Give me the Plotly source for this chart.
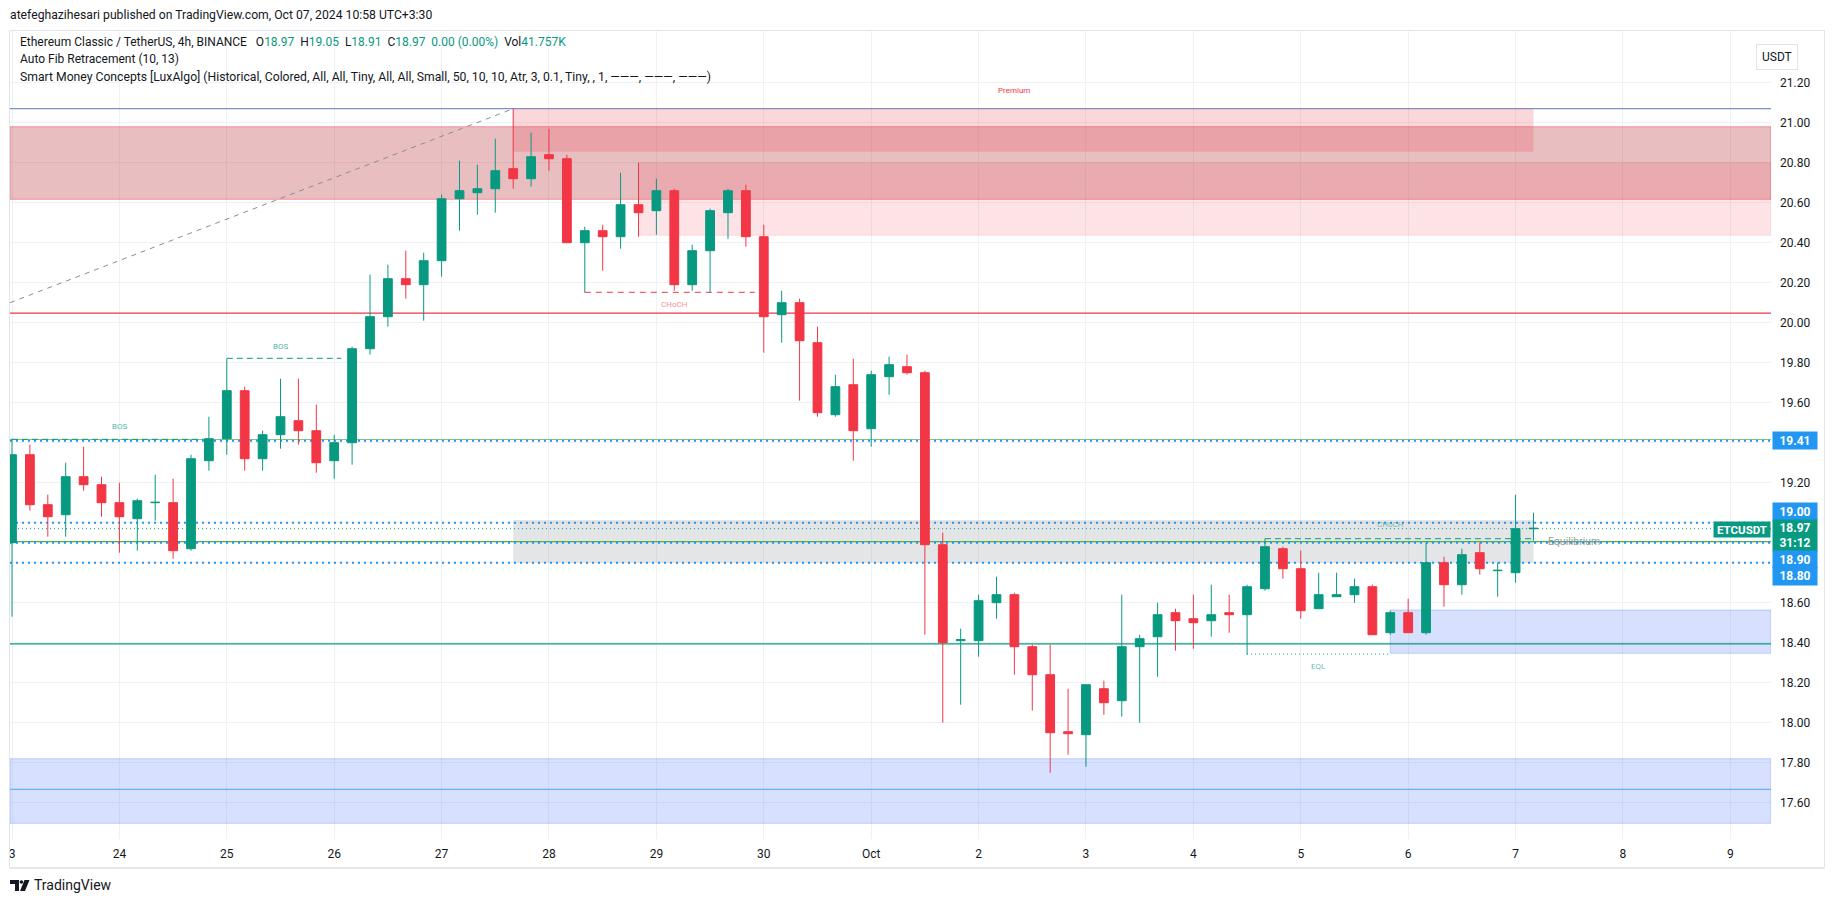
import plotly.graph_objects as go

# ---------------- data (4h candles, index 0 = Sep 23 00:00) ----------------
opens = [18.90, 19.34, 19.09, 19.04, 19.23, 19.19, 19.10, 19.02, 19.10, 19.10,
         18.87, 19.31, 19.42, 19.66, 19.32, 19.44, 19.51, 19.46, 19.31, 19.40,
         19.87, 20.03, 20.22, 20.19, 20.31, 20.62, 20.65, 20.67, 20.77, 20.72,
         20.84, 20.82, 20.40, 20.46, 20.43, 20.59, 20.56, 20.66, 20.19, 20.36,
         20.55, 20.66, 20.43, 20.04, 20.10, 19.90, 19.54, 19.69, 19.47, 19.73,
         19.78, 19.75, 18.89, 18.41, 18.41, 18.60, 18.64, 18.38, 18.24, 17.955,
         17.94, 18.17, 18.11, 18.38, 18.43, 18.55, 18.52, 18.51, 18.55, 18.54,
         18.67, 18.87, 18.77, 18.57, 18.63, 18.64, 18.68, 18.45, 18.55, 18.45,
         18.80, 18.69, 18.85, 18.76, 18.75, 18.97]
highs = [19.42, 19.39, 19.14, 19.30, 19.38, 19.23, 19.20, 19.12, 19.24, 19.22,
         19.34, 19.53, 19.82, 19.68, 19.46, 19.72, 19.72, 19.59, 19.44, 19.88,
         20.24, 20.29, 20.36, 20.35, 20.64, 20.81, 20.79, 20.92, 21.07, 20.95,
         20.97, 20.84, 20.48, 20.49, 20.75, 20.80, 20.72, 20.67, 20.39, 20.57,
         20.67, 20.69, 20.49, 20.16, 20.12, 19.98, 19.74, 19.82, 19.76, 19.83,
         19.84, 19.76, 18.95, 18.47, 18.64, 18.73, 18.65, 18.39, 18.39, 18.17,
         18.19, 18.21, 18.64, 18.44, 18.60, 18.57, 18.64, 18.69, 18.64, 18.69,
         18.92, 18.88, 18.86, 18.75, 18.75, 18.72, 18.69, 18.56, 18.62, 18.90,
         18.83, 18.87, 18.90, 18.80, 19.14, 19.05]
lows = [18.53, 19.06, 18.93, 18.93, 19.16, 19.03, 18.85, 18.86, 19.01, 18.82,
        18.86, 19.26, 19.34, 19.26, 19.26, 19.37, 19.39, 19.25, 19.22, 19.29,
        19.84, 19.98, 20.12, 20.01, 20.23, 20.46, 20.54, 20.55, 20.67, 20.68,
        20.76, 20.40, 20.15, 20.26, 20.37, 20.43, 20.44, 20.16, 20.16, 20.15,
        20.42, 20.38, 19.85, 19.90, 19.61, 19.53, 19.53, 19.31, 19.38, 19.64,
        19.74, 18.44, 18.00, 18.09, 18.33, 18.52, 18.24, 18.06, 17.75, 17.84,
        17.78, 18.04, 18.03, 18.00, 18.23, 18.36, 18.37, 18.43, 18.45, 18.34,
        18.66, 18.72, 18.52, 18.57, 18.63, 18.60, 18.44, 18.44, 18.45, 18.44,
        18.58, 18.64, 18.74, 18.63, 18.70, 18.91]
closes = [19.34, 19.09, 19.03, 19.23, 19.19, 19.10, 19.03, 19.11, 19.102, 18.86,
          19.32, 19.42, 19.66, 19.32, 19.44, 19.53, 19.46, 19.30, 19.40, 19.87,
          20.03, 20.22, 20.19, 20.31, 20.62, 20.66, 20.67, 20.76, 20.72, 20.83,
          20.82, 20.40, 20.46, 20.43, 20.59, 20.55, 20.66, 20.19, 20.36, 20.56,
          20.66, 20.43, 20.03, 20.10, 19.91, 19.55, 19.68, 19.46, 19.74, 19.79,
          19.75, 18.89, 18.40, 18.415, 18.61, 18.64, 18.38, 18.24, 17.95, 17.945,
          18.19, 18.10, 18.38, 18.42, 18.54, 18.51, 18.50, 18.54, 18.54, 18.68,
          18.88, 18.77, 18.56, 18.64, 18.64, 18.68, 18.44, 18.55, 18.45, 18.80,
          18.69, 18.84, 18.77, 18.762, 18.97, 18.972]
candle_idx = list(range(len(opens)))

day_labels = ["3", "24", "25", "26", "27", "28", "29", "30", "Oct",
              "2", "3", "4", "5", "6", "7", "8", "9"]
bars_per_day = 6

price_ticks = [17.6, 17.8, 18.0, 18.2, 18.4, 18.6, 18.8, 19.0, 19.2, 19.4,
               19.6, 19.8, 20.0, 20.2, 20.4, 20.6, 20.8, 21.0, 21.2]
hidden_price_ticks = [18.8, 19.0, 19.4]

# Auto Fib Retracement
fib_high, fib_low = 21.07, 16.74
fib_ratios = [0, 0.236, 0.382, 0.5, 0.618, 0.786]
fib_colors = ["#7f8ec5", "#f23645", "#81c784", "#4caf50", "#089981", "#64b5f6"]
fib_trend_x = [-0.11, 28]
fib_trend_y = [20.10, 21.07]

# user horizontal lines (blue dotted)
user_lines = [19.41, 19.00, 18.90, 18.80]
last_price = 18.97

# SMC zones: (x0 index or None = left edge, x1 index or None = right edge, y0, y1)
zone_bear_ob = (None, None, 20.617, 20.98)
zone_bear_ob2 = (35, None, 20.437, 20.80)
zone_premium = (28, 85, 20.855, 21.07)
zone_equilibrium = (28, 85, 18.80, 19.013)
zone_bull_ob_low = (None, None, 17.497, 17.82)
zone_bull_ob_right = (77, None, 18.347, 18.5635)

# SMC structure lines: (x0, x1, y, label, label_x, label_y)
bos_lines = [(0, 10.7, 19.417, "BOS", 6.0, 19.48),
             (12, 18.4, 19.822, "BOS", 15.0, 19.88)]
choch_bear = (32, 41.5, 20.152, "CHoCH", 37.0, 20.09)
choch_bull = (70, 85.1, 18.92, "CHoCH", 77.0, 18.99)
eql_line = (69, 77, 18.343, "EQL", 73.0, 18.28)
premium_label = ("Premium", 56.0, 21.16)
equilibrium_label = ("Equilibrium", 85.7, 18.905)

change_text = "0.00 (0.00%)"
volume_text = "41.757K"
countdown = "31:12"

# ---------------- layout geometry (page pixels) ----------------
PAGE_W, PAGE_H = 1835, 903
BODY = 8                      # default page body margin
PLOT_L, PLOT_T, PLOT_R, PLOT_B = 10, 30, 1771, 839
W, H = PAGE_W - BODY, PAGE_H - BODY
L, T = PLOT_L - BODY, PLOT_T - BODY
R, B = PAGE_W - PLOT_R, PAGE_H - PLOT_B
PW, PH = PLOT_R - PLOT_L, PLOT_B - PLOT_T
x_range = [-0.112, 98.27]
y_range = [17.4185, 21.4635]

def pxx(px):
    return (px - PLOT_L) / PW

def pxy(py):
    return 1 - (py - PLOT_T) / PH

GREEN, RED, BLUE = "#089981", "#f23645", "#2196f3"
TXT = "#131722"
FONT = "Roboto"

fig = go.Figure()
fig.add_trace(go.Candlestick(
    x=candle_idx, open=opens, high=highs, low=lows, close=closes,
    increasing=dict(line=dict(color=GREEN, width=1), fillcolor=GREEN),
    decreasing=dict(line=dict(color=RED, width=1), fillcolor=RED),
    whiskerwidth=0, hoverinfo="skip", showlegend=False))

shapes = []

def zone(z, fill, line_color=None):
    x0 = x_range[0] if z[0] is None else z[0]
    x1 = x_range[1] if z[1] is None else z[1]
    shapes.append(dict(type="rect", xref="x", yref="y", x0=x0, x1=x1, y0=z[2], y1=z[3],
                       fillcolor=fill, layer="between",
                       line=dict(width=1 if line_color else 0, color=line_color or "rgba(0,0,0,0)")))

zone(zone_bear_ob, "rgba(178,40,51,0.30)", "rgba(242,54,69,0.45)")
zone(zone_bear_ob2, "rgba(242,54,69,0.14)", "rgba(242,54,69,0.12)")
zone(zone_premium, "rgba(242,54,69,0.20)")
zone(zone_equilibrium, "rgba(120,123,134,0.20)")
zone(zone_bull_ob_low, "rgba(41,98,255,0.19)", "rgba(41,98,255,0.25)")
zone(zone_bull_ob_right, "rgba(41,98,255,0.19)", "rgba(41,98,255,0.25)")

def hline(y, color, width=1, dash="solid", x0=None, x1=None):
    shapes.append(dict(type="line", xref="x", yref="y",
                       x0=x_range[0] if x0 is None else x0,
                       x1=x_range[1] if x1 is None else x1,
                       y0=y, y1=y, layer="between",
                       line=dict(color=color, width=width, dash=dash)))

for r, c in zip(fib_ratios, fib_colors):
    hline(fib_high - r * (fib_high - fib_low), c, 1.2)
shapes.append(dict(type="line", xref="x", yref="y", x0=fib_trend_x[0], x1=fib_trend_x[1],
                   y0=fib_trend_y[0], y1=fib_trend_y[1], layer="between",
                   line=dict(color="#8a8d96", width=1, dash="5px,5px")))

for y in user_lines:
    hline(y, BLUE, 2, "2px,4px")
hline(last_price, GREEN, 1, "1px,3px")

annotations = []

def struct(s, color, dash, text_color):
    hline(s[2], color, 1, dash, s[0], s[1])
    annotations.append(dict(xref="x", yref="y", x=s[4], y=s[5], text=s[3], showarrow=False,
                            font=dict(family=FONT, size=8, color=text_color)))

for b in bos_lines:
    struct(b, GREEN, "6px,4px", "rgba(8,153,129,0.75)")
struct(choch_bear, RED, "6px,5px", "rgba(242,54,69,0.6)")
struct(choch_bull, GREEN, "6px,4px", "rgba(8,153,129,0.55)")
struct(eql_line, GREEN, "1px,3px", "rgba(8,153,129,0.65)")

annotations.append(dict(xref="x", yref="y", x=premium_label[1], y=premium_label[2],
                        text=premium_label[0], showarrow=False,
                        font=dict(family=FONT, size=8, color=RED)))
annotations.append(dict(xref="x", yref="y", x=equilibrium_label[1], y=equilibrium_label[2],
                        text=equilibrium_label[0], showarrow=False, xanchor="left",
                        font=dict(family=FONT, size=10.5, color="#989ba3")))

# price-scale labels
def price_label(y, text, bg, yshift=0, h=15):
    annotations.append(dict(xref="paper", yref="y", x=1, y=y, xanchor="left", xshift=1,
                            yshift=yshift, text=text, showarrow=False, bgcolor=bg,
                            width=42, height=h, borderpad=1, align="center",
                            font=dict(family=FONT, size=12, color="white")))

price_label(user_lines[0], "<b>19.41</b>", BLUE, 0)
price_label(user_lines[1], "<b>19.00</b>", BLUE, 11.5)
price_label(last_price, "<b>%.2f</b><br><b>%s</b>" % (last_price, countdown), GREEN, -6.8, 29)
price_label(user_lines[2], "<b>18.90</b>", BLUE, -16.3)
price_label(user_lines[3], "<b>18.80</b>", BLUE, -13.5, 16)
annotations.append(dict(xref="paper", yref="y", x=1, y=last_price, xanchor="right",
                        yshift=-1, text="<b>ETCUSDT</b>", showarrow=False, bgcolor=GREEN,
                        width=54, height=13, borderpad=1,
                        font=dict(family=FONT, size=11.5, color="white")))

# header texts
sp = "\u00a0"
g = lambda v: "<span style='color:%s'>%s</span>" % (GREEN, v)
o, h, l, c = opens[-1], highs[-1], lows[-1], closes[-1]
header2 = ("Ethereum Classic / TetherUS, 4h, BINANCE" + sp * 3 +
           "O" + g("%.2f" % o) + sp * 2 + "H" + g("%.2f" % h) + sp * 2 + "L" + g("%.2f" % l) +
           sp * 2 + "C" + g("%.2f" % c) + sp * 2 + g(change_text) + sp * 2 +
           "Vol" + g(volume_text))
header_lines = [
    ("atefeghazihesari published on TradingView.com, Oct 07, 2024 10:58 UTC+3:30", 8, 15, 12.2),
    (header2, 18, 42, 12),
    ("Auto Fib Retracement (10, 13)", 18, 59.5, 12),
    ("Smart Money Concepts [LuxAlgo] (Historical, Colored, All, All, Tiny, All, All, Small, "
     "50, 10, 10, Atr, 3, 0.1, Tiny, , 1, \u2014\u2014\u2014, \u2014\u2014\u2014, \u2014\u2014\u2014)",
     18, 76.5, 12.2),
]
for text, x, y, size in header_lines:
    annotations.append(dict(xref="paper", yref="paper", x=pxx(x), y=pxy(y), xanchor="left",
                            yanchor="middle", text=text, showarrow=False,
                            font=dict(family=FONT, size=size, color=TXT)))

annotations.append(dict(xref="paper", yref="paper", x=pxx(1798), y=pxy(44), text="USDT",
                        showarrow=False, bordercolor="#e0e3eb", borderwidth=1, borderpad=5,
                        bgcolor="white", font=dict(family=FONT, size=12, color=TXT)))
annotations.append(dict(xref="paper", yref="paper", x=pxx(32), y=pxy(885), xanchor="left",
                        yanchor="middle", text="TradingView", showarrow=False,
                        font=dict(family=FONT, size=14, color=TXT)))

# TradingView logo glyph
def ppath(pts):
    return "M" + " L".join("%f,%f" % (pxx(a), pxy(b)) for a, b in pts) + " Z"

shapes.append(dict(type="path", xref="paper", yref="paper", layer="above",
                   path=ppath([(10, 880), (19, 880), (19, 891), (15, 891), (15, 884), (10, 884)]),
                   fillcolor=TXT, line=dict(width=0)))
shapes.append(dict(type="circle", xref="paper", yref="paper", layer="above",
                   x0=pxx(19.6), x1=pxx(23.2), y0=pxy(883.8), y1=pxy(880.2),
                   fillcolor=TXT, line=dict(width=0)))
shapes.append(dict(type="path", xref="paper", yref="paper", layer="above",
                   path=ppath([(24.5, 880), (29.5, 880), (25, 891), (20, 891)]),
                   fillcolor=TXT, line=dict(width=0)))

# snapshot frame
shapes.append(dict(type="rect", xref="paper", yref="paper", layer="above",
                   x0=pxx(9.5), x1=pxx(1824.5), y0=pxy(867.5), y1=pxy(30.5),
                   line=dict(color="#e0e3eb", width=1)))
shapes.append(dict(type="line", xref="paper", yref="paper", layer="above",
                   x0=pxx(9.5), x1=pxx(1824.5), y0=pxy(868), y1=pxy(868),
                   line=dict(color="#e6e8ee", width=2)))

xt = [i * bars_per_day for i in range(len(day_labels))]
yt_text = ["" if v in hidden_price_ticks else "%.2f" % v for v in price_ticks]

fig.update_layout(
    width=W, height=H, margin=dict(l=L, r=R, t=T, b=B, autoexpand=False),
    paper_bgcolor="white", plot_bgcolor="white", hovermode=False,
    shapes=shapes, annotations=annotations, showlegend=False,
    xaxis=dict(range=x_range, tickvals=xt, ticktext=day_labels, showgrid=True,
               gridcolor="#f0f1f4", gridwidth=1, zeroline=False, showline=False,
               ticks="", ticklabelstandoff=6, rangeslider=dict(visible=False),
               tickfont=dict(family=FONT, size=12, color=TXT), fixedrange=True),
    yaxis=dict(range=y_range, side="right", tickvals=price_ticks, ticktext=yt_text,
               showgrid=True, gridcolor="#f0f1f4", gridwidth=1, zeroline=False,
               showline=False, ticks="", ticklabelstandoff=8,
               tickfont=dict(family=FONT, size=12, color=TXT), fixedrange=True),
)

fig.write_html("out.html")
